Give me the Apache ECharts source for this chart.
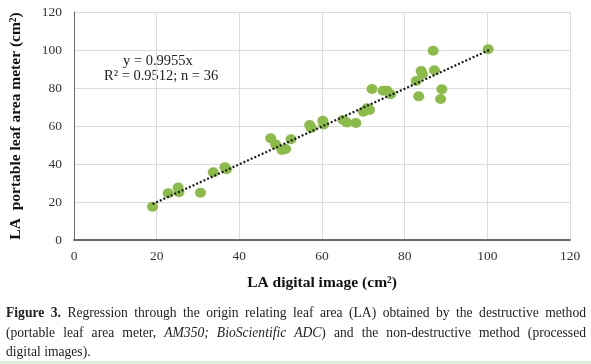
<!DOCTYPE html>
<html>
<head>
<meta charset="utf-8">
<script src="https://cdn.jsdelivr.net/npm/echarts@6/dist/echarts.min.js"></script>
<style>
html,body{margin:0;padding:0;background:#fff;}
#wrap{position:relative;width:591px;height:364px;overflow:hidden;}
#chart{position:absolute;left:0;top:0;width:591px;height:364px;}
#caption{position:absolute;left:6px;top:303px;width:580px;font-family:"Liberation Serif",serif;font-size:13.6px;line-height:19.5px;color:#222;}
#caption div{white-space:nowrap;text-align:justify;text-align-last:justify;}
#caption div.last{text-align-last:left;}
#greenline{position:absolute;left:0;top:361px;width:591px;height:3px;background:#d8f0d8;}
</style>
</head>
<body>
<div id="wrap">
<div id="chart"></div>
<div id="caption">
<div><b>Figure 3.</b> Regression through the origin relating leaf area (LA) obtained by the destructive method</div>
<div>(portable leaf area meter, <i>AM350; BioScientific ADC</i>) and the non-destructive method (processed</div>
<div class="last">digital images).</div>
</div>
<div id="greenline"></div>
</div>
<script>
// LA digital image (cm²)
var digitalLA = [19.0, 22.8, 25.2, 25.4, 30.6, 33.7, 36.5, 36.9, 47.6, 48.8, 50.3, 51.2, 52.5,
  57.0, 57.4, 60.2, 60.4, 65.1, 66.0, 68.2, 70.0, 70.9, 71.5, 72.1, 74.8, 75.7, 76.6,
  82.8, 84.0, 84.3, 83.4, 86.9, 87.2, 89.0, 88.7, 100.2];
// LA portable leaf area meter (cm²)
var meterLA = [17.5, 24.6, 27.6, 25.2, 24.9, 35.6, 38.3, 37.2, 53.5, 50.3, 47.4, 47.9, 53.0,
  60.5, 59.0, 62.8, 60.8, 63.2, 61.8, 61.6, 67.5, 69.3, 68.5, 79.5, 78.6, 78.6, 76.7,
  83.7, 88.9, 87.4, 75.6, 99.6, 89.3, 79.3, 74.2, 100.4];
var slope = 0.9955;
var trendRange = [19.0, 100.6];
var xTicks = [0, 20, 40, 60, 80, 100, 120];
var yTicks = [0, 20, 40, 60, 80, 100, 120];

var points = digitalLA.map(function (x, i) { return [x, meterLA[i]]; });
var trend = trendRange.map(function (x) { return [x, slope * x]; });

var serif = '"Liberation Serif", "Times New Roman", serif';
var chart = echarts.init(document.getElementById('chart'), null, {renderer: 'canvas'});
chart.setOption({
  animation: false,
  backgroundColor: '#fff',
  grid: {left: 73, right: 21, top: 12, bottom: 124},
  xAxis: {
    type: 'value', min: xTicks[0], max: xTicks[xTicks.length - 1], interval: 20,
    name: 'LA digital image (cm²)', nameLocation: 'middle', nameGap: 35,
    nameTextStyle: {fontFamily: serif, fontWeight: 'bold', fontSize: 15.5, color: '#111'},
    axisLine: {show: true, onZero: false, lineStyle: {color: '#6a6a6a', width: 2}},
    axisTick: {show: false},
    axisLabel: {fontFamily: serif, fontSize: 13.5, color: '#333', margin: 9},
    splitLine: {show: true, lineStyle: {color: '#dcdcdc', width: 1}}
  },
  yAxis: {
    type: 'value', min: yTicks[0], max: yTicks[yTicks.length - 1], interval: 20,
    name: 'LA  portable leaf area meter (cm²)', nameLocation: 'middle', nameGap: 50, nameRotate: 90,
    nameTextStyle: {fontFamily: serif, fontWeight: 'bold', fontSize: 15.5, color: '#111'},
    axisLine: {show: true, onZero: false, lineStyle: {color: '#6a6a6a', width: 1}},
    axisTick: {show: false},
    axisLabel: {fontFamily: serif, fontSize: 13.5, color: '#333', margin: 12},
    splitLine: {show: true, lineStyle: {color: '#dcdcdc', width: 1}}
  },
  graphic: [
    {type: 'text', left: 123, top: 54, style: {text: 'y = 0.9955x', font: '14.5px ' + serif, fill: '#222'}},
    {type: 'text', left: 104, top: 69, style: {text: 'R² = 0.9512; n = 36', font: '14.5px ' + serif, fill: '#222'}}
  ],
  series: [
    {
      type: 'scatter', data: points, symbol: 'circle', symbolSize: [11, 10],
      itemStyle: {color: '#8cbc48', opacity: 1}, z: 2
    },
    {
      type: 'line', data: trend, symbol: 'none', silent: true, z: 3,
      lineStyle: {color: '#1a1a1a', width: 2.2, type: [2, 2]}
    }
  ]
});
</script>
</body>
</html>
